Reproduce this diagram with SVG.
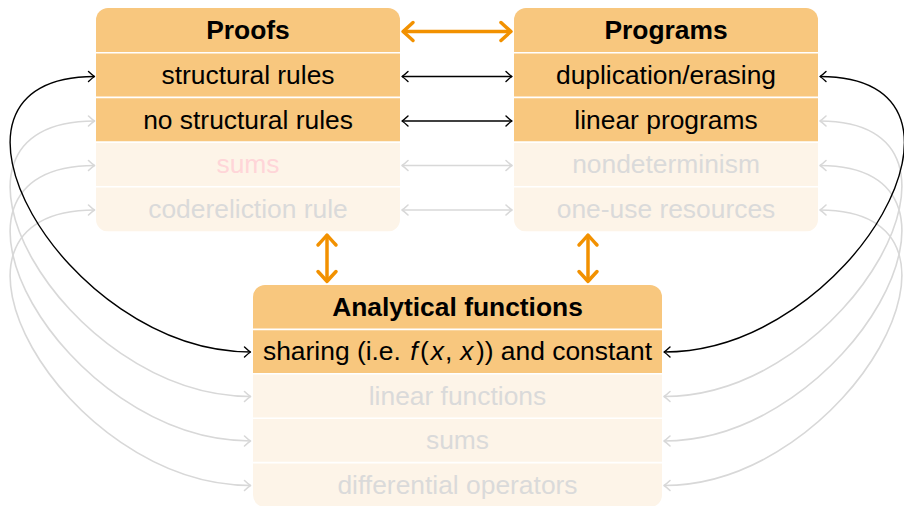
<svg xmlns="http://www.w3.org/2000/svg" width="904" height="506" viewBox="0 0 904 506">
  <style>
    .hi { fill: #F8C77E; }
    .lo { fill: #FDF4E8; }
    .sep { stroke: #FFFFFF; stroke-width: 1.6; }
    text { font-family: "Liberation Sans", Arial, Helvetica, sans-serif; font-size: 26.4px; text-anchor: middle; }
    .title { font-weight: bold; fill: #000000; }
    .on { fill: #000000; }
    .off { fill: #DADADA; }
    .pink { fill: #FFD5D8; }
    .it { font-style: italic; }
    .bold-link { fill: none; stroke: #F29100; stroke-width: 3.5; }
    .dark-link { fill: none; stroke: #000000; stroke-width: 1.4; }
    .pale-link { fill: none; stroke: #D8D8D8; stroke-width: 1.6; }
  </style>
  <defs>
    <marker id="tipOrange" markerUnits="userSpaceOnUse" markerWidth="30" markerHeight="30" refX="0" refY="0" orient="auto-start-reverse" overflow="visible">
      <path d="M -10,-9 Q -3,-2.5 0,0 Q -3,2.5 -10,9" fill="none" stroke="#F29100" stroke-width="3.5" stroke-linecap="round" stroke-linejoin="round"/>
    </marker>
    <marker id="tipDark" markerUnits="userSpaceOnUse" markerWidth="20" markerHeight="20" refX="0" refY="0" orient="auto-start-reverse" overflow="visible">
      <path d="M -6,-5 Q -2,-1.2 0,0 Q -2,1.2 -6,5" fill="none" stroke="#000000" stroke-width="1.4" stroke-linecap="round" stroke-linejoin="round"/>
    </marker>
    <marker id="tipPale" markerUnits="userSpaceOnUse" markerWidth="20" markerHeight="20" refX="0" refY="0" orient="auto-start-reverse" overflow="visible">
      <path d="M -6,-5 Q -2,-1.2 0,0 Q -2,1.2 -6,5" fill="none" stroke="#D8D8D8" stroke-width="1.6" stroke-linecap="round" stroke-linejoin="round"/>
    </marker>
    <clipPath id="clipProofs"><rect x="96" y="8" width="304" height="223.5" rx="12"/></clipPath>
    <clipPath id="clipPrograms"><rect x="514" y="8" width="304" height="223.5" rx="12"/></clipPath>
    <clipPath id="clipAnalytic"><rect x="253" y="285" width="409" height="222" rx="12"/></clipPath>
  </defs>

  <rect width="904" height="506" fill="#FFFFFF"/>

  <!-- Proofs table -->
  <g id="proofs">
    <g clip-path="url(#clipProofs)">
      <rect class="hi" x="96" y="8" width="304" height="134.1"/>
      <rect class="lo" x="96" y="142.1" width="304" height="89.4"/>
      <line class="sep" x1="96" y1="52.7" x2="400" y2="52.7"/>
      <line class="sep" x1="96" y1="97.4" x2="400" y2="97.4"/>
      <line class="sep" x1="96" y1="142.1" x2="400" y2="142.1"/>
      <line class="sep" x1="96" y1="186.8" x2="400" y2="186.8"/>
    </g>
    <text class="title" x="248" y="39.3">Proofs</text>
    <text class="on" x="248" y="84">structural rules</text>
    <text class="on" x="248" y="128.7">no structural rules</text>
    <text class="pink" x="248" y="173.4">sums</text>
    <text class="off" x="248" y="218.1">codereliction rule</text>
  </g>

  <!-- Programs table -->
  <g id="programs">
    <g clip-path="url(#clipPrograms)">
      <rect class="hi" x="514" y="8" width="304" height="134.1"/>
      <rect class="lo" x="514" y="142.1" width="304" height="89.4"/>
      <line class="sep" x1="514" y1="52.7" x2="818" y2="52.7"/>
      <line class="sep" x1="514" y1="97.4" x2="818" y2="97.4"/>
      <line class="sep" x1="514" y1="142.1" x2="818" y2="142.1"/>
      <line class="sep" x1="514" y1="186.8" x2="818" y2="186.8"/>
    </g>
    <text class="title" x="666" y="39.3">Programs</text>
    <text class="on" x="666" y="84">duplication/erasing</text>
    <text class="on" x="666" y="128.7">linear programs</text>
    <text class="off" x="666" y="173.4">nondeterminism</text>
    <text class="off" x="666" y="218.1">one-use resources</text>
  </g>

  <!-- Analytical functions table -->
  <g id="analytical">
    <g clip-path="url(#clipAnalytic)">
      <rect class="hi" x="253" y="285" width="409" height="88.8"/>
      <rect class="lo" x="253" y="373.8" width="409" height="133.2"/>
      <line class="sep" x1="253" y1="329.4" x2="662" y2="329.4"/>
      <line class="sep" x1="253" y1="373.8" x2="662" y2="373.8"/>
      <line class="sep" x1="253" y1="418.2" x2="662" y2="418.2"/>
      <line class="sep" x1="253" y1="462.6" x2="662" y2="462.6"/>
    </g>
    <text class="title" x="457.5" y="315.6">Analytical functions</text>
    <text class="on" x="457.5" y="360">sharing (i.e. <tspan class="it" dx="2">f</tspan><tspan dx="2.5">(</tspan><tspan class="it" dx="2">x</tspan><tspan dx="1">,</tspan> <tspan class="it" dx="0.5">x</tspan><tspan dx="2.5">))</tspan> and constant</text>
    <text class="off" x="457.5" y="405">linear functions</text>
    <text class="off" x="457.5" y="449.4">sums</text>
    <text class="off" x="457.5" y="493.8">differential operators</text>
  </g>

  <!-- Links between the tables -->
  <g id="connectors">
    <line class="bold-link" x1="403" y1="31.5" x2="511" y2="31.5" marker-start="url(#tipOrange)" marker-end="url(#tipOrange)"/>
    <line class="bold-link" x1="327" y1="235" x2="327" y2="281.5" marker-start="url(#tipOrange)" marker-end="url(#tipOrange)"/>
    <line class="bold-link" x1="588" y1="235" x2="588" y2="281.5" marker-start="url(#tipOrange)" marker-end="url(#tipOrange)"/>

    <line class="dark-link" x1="402" y1="76.5" x2="512" y2="76.5" marker-start="url(#tipDark)" marker-end="url(#tipDark)"/>
    <line class="dark-link" x1="402" y1="121" x2="512" y2="121" marker-start="url(#tipDark)" marker-end="url(#tipDark)"/>
    <line class="pale-link" x1="402" y1="165.5" x2="512" y2="165.5" marker-start="url(#tipPale)" marker-end="url(#tipPale)"/>
    <line class="pale-link" x1="402" y1="210" x2="512" y2="210" marker-start="url(#tipPale)" marker-end="url(#tipPale)"/>

    <!-- left arcs: proofs rows to function rows -->
    <path class="pale-link" d="M 94.5,121 C -92.5,121 63.5,396.5 250.5,396.5" marker-start="url(#tipPale)" marker-end="url(#tipPale)"/>
    <path class="pale-link" d="M 94.5,165.5 C -92.5,165.5 63.5,441 250.5,441" marker-start="url(#tipPale)" marker-end="url(#tipPale)"/>
    <path class="pale-link" d="M 94.5,210 C -92.5,210 63.5,485.5 250.5,485.5" marker-start="url(#tipPale)" marker-end="url(#tipPale)"/>
    <path class="dark-link" d="M 94.5,76.5 C -92.5,76.5 63.5,352 250.5,352" marker-start="url(#tipDark)" marker-end="url(#tipDark)"/>

    <!-- right arcs: program rows to function rows -->
    <path class="pale-link" d="M 820,121 C 1003,121 847.5,396.5 664,396.5" marker-start="url(#tipPale)" marker-end="url(#tipPale)"/>
    <path class="pale-link" d="M 820,165.5 C 1003,165.5 847.5,441 664,441" marker-start="url(#tipPale)" marker-end="url(#tipPale)"/>
    <path class="pale-link" d="M 820,210 C 1003,210 847.5,485.5 664,485.5" marker-start="url(#tipPale)" marker-end="url(#tipPale)"/>
    <path class="dark-link" d="M 820,76.5 C 1007,76.5 851,352 664,352" marker-start="url(#tipDark)" marker-end="url(#tipDark)"/>
  </g>
</svg>
